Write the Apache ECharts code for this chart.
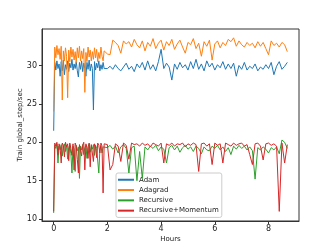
<!DOCTYPE html>
<html>
<head>
<meta charset="utf-8">
<script src="https://cdn.jsdelivr.net/npm/echarts@6/dist/echarts.min.js"></script>
<style>html,body{margin:0;padding:0;background:#fff}#c{width:332px;height:249px}</style>
</head>
<body>
<div id="c"></div>
<script>
var seriesNames = ['Adam', 'Adagrad', 'Recursive', 'Recursive+Momentum'];
var xTicks = [0, 2, 4, 6, 8];
var yTicks = [10, 15, 20, 25, 30];

var hoursDense = [0,0.04,0.08,0.12,0.16,0.20,0.24,0.28,0.32,0.36,0.40,0.44,0.48,0.52,0.56,0.60,0.64,0.68,0.72,0.76,0.80,0.84,0.88,0.92,0.96,1.00,1.04,1.08,1.12,1.16,1.20,1.24,1.28,1.32,1.36,1.40,1.44,1.48,1.52,1.56,1.60,1.64,1.68,1.72,1.76,1.80,1.84,1.88];
var hoursSparse = [2.0,2.1,2.2,2.3,2.4,2.5,2.6,2.7,2.8,2.9,3.0,3.1,3.2,3.3,3.4,3.5,3.6,3.7,3.8,3.9,4.0,4.1,4.2,4.3,4.4,4.5,4.6,4.7,4.8,4.9,5.0,5.1,5.2,5.3,5.4,5.5,5.6,5.7,5.8,5.9,6.0,6.1,6.2,6.3,6.4,6.5,6.6,6.7,6.8,6.9,7.0,7.1,7.2,7.3,7.4,7.5,7.6,7.7,7.8,7.9,8.0,8.1,8.2,8.3,8.4,8.5,8.6,8.7];

var adamDense = [21.5,30.4,29.4,30.6,29.6,30.2,28.6,30.5,29.3,30.7,28.8,30.1,29.5,30.6,29.2,30.3,29.7,30.8,29.4,30.2,29.6,30.5,29.3,28.5,30.4,29.5,30.6,29.2,30.3,29.6,28.6,30.4,29.5,30.7,29.3,30.2,29.6,24.2,30.5,29.4,30.3,29.7,30.6,29.3,30.1,29.5,30.4,29.6];
var adamSparse = [29.6,29.9,29.5,30.1,29.6,29.3,29.8,30.3,29.5,29.9,29.2,30.2,29.7,30.4,29.4,30.6,29.5,30.1,29.3,30.5,32.1,29.6,30.3,29.8,28.1,30.2,29.5,30.4,29.7,30.1,29.4,30.5,29.6,30.8,29.5,30.2,29.3,30.6,29.8,30.3,29.4,30.1,29.7,30.5,29.5,30.2,29.6,30.3,28.6,30.0,29.5,30.4,29.4,29.9,29.6,30.2,29.3,29.8,29.5,30.1,29.6,30.4,28.8,29.9,30.5,29.5,29.9,30.4];

var adagradDense = [24.0,32.4,31.0,32.6,31.4,32.2,30.8,32.5,25.5,31.9,30.6,32.3,31.2,25.8,32.0,30.5,32.4,31.1,32.1,30.7,31.8,30.4,32.3,31.0,32.5,30.6,31.9,30.9,32.2,26.5,31.7,30.5,32.4,31.1,32.0,30.6,31.8,30.8,32.3,31.0,32.1,30.5,31.7,30.9,32.4,31.2,30.6,31.9];
var adagradSparse = [31.5,31.4,33.3,33.0,32.6,31.6,33.2,32.8,33.1,32.4,33.4,32.7,32.3,33.2,31.9,33.0,32.5,33.5,32.2,32.9,33.3,32.0,33.1,32.6,33.4,32.1,32.8,33.3,32.4,31.6,33.0,32.7,33.5,32.2,32.9,31.2,33.1,32.5,33.3,30.7,32.8,33.2,32.3,33.0,32.6,33.4,33.1,33.6,32.5,33.2,32.7,32.4,33.0,32.6,32.9,32.3,33.1,32.5,33.0,32.2,31.4,33.2,32.6,32.9,32.4,33.0,32.7,31.8];

var recursiveDense = [10.8,19.6,19.2,19.8,17.3,19.5,19.0,19.7,18.2,19.4,19.8,18.8,19.6,17.8,19.3,19.7,18.5,16.0,19.5,19.1,16.2,19.6,18.9,19.4,15.3,19.5,19.0,19.7,18.4,19.3,19.6,17.9,19.4,19.8,18.7,19.5,19.1,19.7,18.3,19.6,19.2,19.4,16.0,19.0,19.5,18.6,19.4,19.6];
var recursiveSparse = [19.3,19.6,19.1,19.5,18.6,19.4,19.7,19.2,16.0,19.3,19.5,15.0,18.8,15.3,19.4,19.0,19.5,19.2,19.6,18.9,19.4,19.1,17.3,19.3,19.6,19.0,19.5,18.7,19.3,19.6,19.1,19.4,18.8,19.5,19.2,18.5,19.4,19.0,18.9,19.5,19.2,19.6,19.0,19.4,18.8,19.3,18.4,19.5,19.1,19.6,19.2,19.5,19.0,19.4,18.9,15.2,19.3,19.0,19.4,19.1,18.6,19.3,19.0,19.4,18.5,20.3,20.0,19.2];

var momentumDense = [11.0,19.9,19.5,20.0,18.4,19.8,19.3,17.3,19.9,19.6,18.1,20.0,19.4,19.8,17.6,19.9,19.2,18.3,19.8,16.4,19.9,19.5,17.8,16.0,19.7,19.9,18.2,19.6,20.0,16.4,19.8,19.3,17.9,19.9,16.8,19.7,19.9,17.5,19.8,19.4,18.0,19.9,19.6,18.6,19.9,19.5,13.4,19.8];
var momentumSparse = [19.7,16.4,17.1,19.8,19.5,17.5,19.9,19.6,17.8,19.9,19.7,19.8,19.5,19.9,19.6,19.8,19.4,19.9,19.7,19.5,19.9,17.3,19.8,19.6,19.9,19.5,19.8,19.7,19.9,19.4,19.8,19.6,19.9,19.7,16.2,19.8,19.9,19.5,19.8,17.1,19.9,19.6,19.8,17.3,19.9,19.7,19.5,19.9,19.6,19.8,19.9,19.5,19.7,18.4,17.1,19.8,19.9,19.5,17.7,19.8,19.9,19.6,19.8,19.5,11.0,19.9,17.3,19.7];

var colors = ['#1f77b4', '#ff7f0e', '#2ca02c', '#d62728'];
var hours = hoursDense.concat(hoursSparse);
function pairs(dense, sparse) {
  var v = dense.concat(sparse);
  return hours.map(function (h, i) { return [h, v[i]]; });
}
var allValues = [
  pairs(adamDense, adamSparse),
  pairs(adagradDense, adagradSparse),
  pairs(recursiveDense, recursiveSparse),
  pairs(momentumDense, momentumSparse)
];

var font = 'DejaVu Sans';
var chart = echarts.init(document.getElementById('c'), null, { renderer: 'canvas' });
chart.setOption({
  animation: false,
  color: colors,
  textStyle: { fontFamily: font },
  grid: { left: 42, top: 29, right: 33, bottom: 28, show: true, borderColor: '#333', borderWidth: 1, backgroundColor: 'transparent' },
  legend: {
    orient: 'vertical', left: 116, top: 173,
    data: seriesNames,
    icon: 'rect', itemWidth: 16, itemHeight: 2, itemGap: 0.8,
    padding: [2, 3, 2, 2],
    backgroundColor: '#fff', borderColor: '#ccc', borderWidth: 1, borderRadius: 2,
    textStyle: { fontFamily: font, fontSize: 7, color: '#222', lineHeight: 9.5 }
  },
  xAxis: {
    type: 'value', min: -0.435, max: 9.135,
    name: 'Hours', nameLocation: 'middle', nameGap: 15,
    nameMoveOverlap: false,
    nameTextStyle: { fontFamily: font, fontSize: 7, color: '#222' },
    splitLine: { show: false },
    axisLine: { show: true, onZero: false, lineStyle: { color: '#333' } },
    axisTick: { show: true, length: 3, lineStyle: { color: '#333' }, customValues: xTicks },
    axisLabel: { fontFamily: font, fontSize: 8, color: '#222', margin: 4, customValues: xTicks }
  },
  yAxis: {
    type: 'value', min: 9.75, max: 34.75,
    name: 'Train global_step/sec', nameLocation: 'middle', nameGap: 18,
    nameMoveOverlap: false,
    nameTextStyle: { fontFamily: font, fontSize: 7, color: '#222' },
    splitLine: { show: false },
    axisLine: { show: true, onZero: false, lineStyle: { color: '#333' } },
    axisTick: { show: true, length: 3, lineStyle: { color: '#333' }, customValues: yTicks },
    axisLabel: { fontFamily: font, fontSize: 8, color: '#222', margin: 5, customValues: yTicks }
  },
  series: seriesNames.map(function (n, i) {
    return {
      name: n, type: 'line', data: allValues[i], symbol: 'none',
      lineStyle: { width: 1, color: colors[i] }, z: 2 + i
    };
  })
});
</script>
</body>
</html>
